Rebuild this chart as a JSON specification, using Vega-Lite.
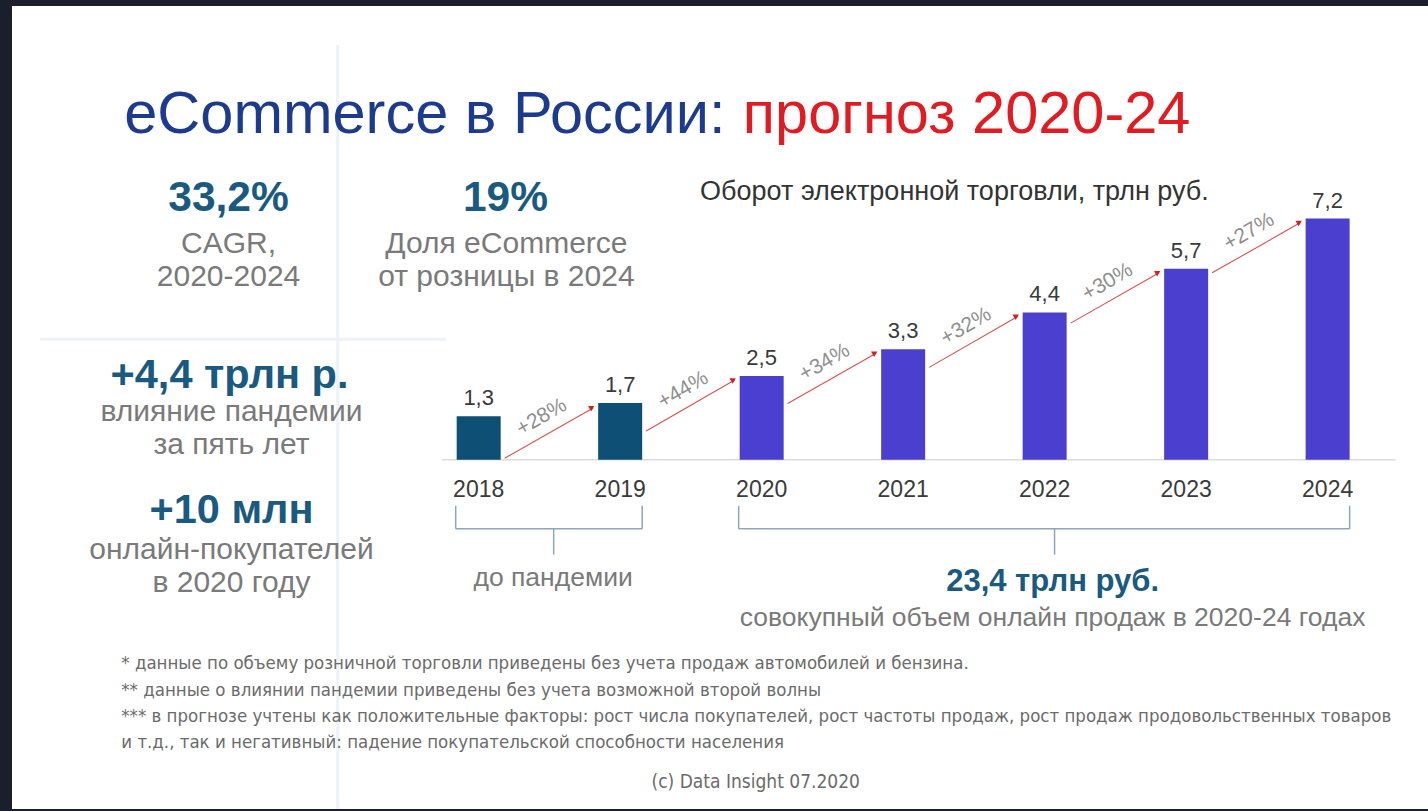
{
  "$schema": "https://vega.github.io/schema/vega-lite/v6.json",
  "width": 1428,
  "height": 811,
  "autosize": {"type": "fit", "contains": "padding"},
  "padding": {"left": 12, "top": 6, "right": 0, "bottom": 0},
  "background": "#1b1f2b",
  "config": {
    "view": {"stroke": null, "fill": "#ffffff"},
    "locale": {"number": {"decimal": ",", "thousands": " ", "grouping": [3], "currency": ["", ""]}},
    "text": {"font": "Liberation Sans"}
  },
  "datasets": {
    "sales": [
      {"year": 2018, "value": 1.3, "phase": "до пандемии"},
      {"year": 2019, "value": 1.7, "phase": "до пандемии"},
      {"year": 2020, "value": 2.5, "phase": "2020-24"},
      {"year": 2021, "value": 3.3, "phase": "2020-24"},
      {"year": 2022, "value": 4.4, "phase": "2020-24"},
      {"year": 2023, "value": 5.7, "phase": "2020-24"},
      {"year": 2024, "value": 7.2, "phase": "2020-24"}
    ],
    "growth": [
      {"from": 2018, "to": 2019, "start": 0.05, "end": 1.55, "label": "+28%"},
      {"from": 2019, "to": 2020, "start": 0.86, "end": 2.38, "label": "+44%"},
      {"from": 2020, "to": 2021, "start": 1.68, "end": 3.18, "label": "+34%"},
      {"from": 2021, "to": 2022, "start": 2.76, "end": 4.28, "label": "+32%"},
      {"from": 2022, "to": 2023, "start": 4.08, "end": 5.58, "label": "+30%"},
      {"from": 2023, "to": 2024, "start": 5.58, "end": 7.08, "label": "+27%"}
    ],
    "periods": [
      {"from": 2018, "to": 2019, "mid": 2018.53, "period": "до пандемии"},
      {"from": 2020, "to": 2024, "mid": 2022.07, "period": "2020-24"}
    ],
    "one": [{}]
  },
  "layer": [
    {"data": {"name": "one"}, "mark": {"type": "rule", "color": "#edf2f8", "strokeWidth": 3},
     "encoding": {"x": {"datum": 2017.004, "type": "quantitative", "scale": {"domain": [2014.737, 2024.674], "nice": false, "zero": false}, "axis": null},
                  "y": {"datum": 12.381, "type": "quantitative", "scale": {"domain": [-10.417, 13.542], "nice": false}, "axis": null},
                  "y2": {"datum": -10.417}}},
    {"data": {"name": "one"}, "mark": {"type": "rule", "color": "#edf2f8", "strokeWidth": 3},
     "encoding": {"x": {"datum": 2014.898, "type": "quantitative", "axis": null}, "x2": {"datum": 2017.77},
                  "y": {"datum": 3.601, "type": "quantitative", "axis": null}}},

    {"data": {"name": "one"}, "mark": {"type": "rule", "color": "#dcdcdc", "strokeWidth": 1.5},
     "encoding": {"x": {"datum": 2017.74, "type": "quantitative", "axis": null}, "x2": {"datum": 2024.48},
                  "y": {"datum": 0, "type": "quantitative", "axis": null}}},
    {"data": {"name": "sales"}, "mark": {"type": "bar", "width": 44, "orient": "vertical"},
     "encoding": {
       "x": {"field": "year", "type": "quantitative", "axis": null},
       "y": {"field": "value", "type": "quantitative", "axis": null},
       "color": {"field": "phase", "type": "nominal", "scale": {"domain": ["до пандемии", "2020-24"], "range": ["#0d4f75", "#4b3fd0"]}, "legend": null}
     }},
    {"data": {"name": "sales"}, "mark": {"type": "text", "fontSize": 22, "color": "#3a3a3a", "align": "center", "baseline": "alphabetic", "dy": -11},
     "encoding": {
       "x": {"field": "year", "type": "quantitative", "axis": null},
       "y": {"field": "value", "type": "quantitative", "axis": null},
       "text": {"field": "value", "type": "quantitative", "format": ".1f"}
     }},
    {"data": {"name": "sales"}, "mark": {"type": "text", "fontSize": 23, "color": "#3a3a3a", "align": "center", "baseline": "alphabetic", "dy": 37},
     "encoding": {
       "x": {"field": "year", "type": "quantitative", "axis": null},
       "y": {"datum": 0, "type": "quantitative", "axis": null},
       "text": {"field": "year", "type": "quantitative", "format": "d"}
     }},
    {"data": {"name": "growth"}, "mark": {"type": "rule", "color": "#d85050", "strokeWidth": 1.1, "xOffset": 26, "x2Offset": -27},
     "encoding": {
       "x": {"field": "from", "type": "quantitative", "axis": null}, "x2": {"field": "to"},
       "y": {"field": "start", "type": "quantitative", "axis": null}, "y2": {"field": "end"}
     }},
    {"data": {"name": "growth"}, "mark": {"type": "point", "shape": "triangle", "filled": true, "size": 40, "angle": 60, "color": "#d42020", "opacity": 1, "xOffset": -29},
     "encoding": {
       "x": {"field": "to", "type": "quantitative", "axis": null},
       "y": {"field": "end", "type": "quantitative", "axis": null}
     }},
    {"data": {"name": "growth"}, "mark": {"type": "text", "fontSize": 21, "color": "#8f8f8f", "align": "center", "baseline": "middle", "angle": -30, "dx": 75, "dy": -4},
     "encoding": {
       "x": {"field": "from", "type": "quantitative", "axis": null},
       "y": {"field": "start", "type": "quantitative", "axis": null},
       "text": {"field": "label", "type": "nominal"}
     }},

    {"data": {"name": "periods"}, "mark": {"type": "rule", "color": "#8fa5b8", "strokeWidth": 1.5, "xOffset": -23, "x2Offset": 22},
     "encoding": {"x": {"field": "from", "type": "quantitative", "axis": null}, "x2": {"field": "to"},
                  "y": {"datum": -2.054, "type": "quantitative", "axis": null}}},
    {"data": {"name": "periods"}, "mark": {"type": "rule", "color": "#8fa5b8", "strokeWidth": 1.5, "xOffset": -23},
     "encoding": {"x": {"field": "from", "type": "quantitative", "axis": null},
                  "y": {"datum": -1.369, "type": "quantitative", "axis": null}, "y2": {"datum": -2.054}}},
    {"data": {"name": "periods"}, "mark": {"type": "rule", "color": "#8fa5b8", "strokeWidth": 1.5, "xOffset": 22},
     "encoding": {"x": {"field": "to", "type": "quantitative", "axis": null},
                  "y": {"datum": -1.369, "type": "quantitative", "axis": null}, "y2": {"datum": -2.054}}},
    {"data": {"name": "periods"}, "mark": {"type": "rule", "color": "#8fa5b8", "strokeWidth": 1.5},
     "encoding": {"x": {"field": "mid", "type": "quantitative", "axis": null},
                  "y": {"datum": -2.054, "type": "quantitative", "axis": null}, "y2": {"datum": -2.827}}},

    {"data": {"name": "one"}, "mark": {"type": "text", "text": "eCommerce в России:", "fontSize": 59.5, "color": "#1c3a8e", "align": "left", "baseline": "alphabetic"},
     "encoding": {"x": {"datum": 2015.495, "type": "quantitative", "axis": null}, "y": {"datum": 9.762, "type": "quantitative", "axis": null}}},
    {"data": {"name": "one"}, "mark": {"type": "text", "text": "прогноз 2020-24", "fontSize": 59.5, "color": "#e01b22", "align": "left", "baseline": "alphabetic"},
     "encoding": {"x": {"datum": 2019.867, "type": "quantitative", "axis": null}, "y": {"datum": 9.762, "type": "quantitative", "axis": null}}},
    {"data": {"name": "one"}, "mark": {"type": "text", "text": "Оборот электронной торговли, трлн руб.", "fontSize": 27, "color": "#333333", "align": "left", "baseline": "alphabetic"},
     "encoding": {"x": {"datum": 2019.565, "type": "quantitative", "axis": null}, "y": {"datum": 7.768, "type": "quantitative", "axis": null}}},

    {"data": {"name": "one"}, "mark": {"type": "text", "text": "33,2%", "fontSize": 42.5, "fontWeight": "bold", "color": "#1a5a80", "align": "center", "baseline": "alphabetic"},
     "encoding": {"x": {"datum": 2016.232, "type": "quantitative", "axis": null}, "y": {"datum": 7.411, "type": "quantitative", "axis": null}}},
    {"data": {"name": "one"}, "mark": {"type": "text", "text": ["CAGR,", "2020-2024"], "lineHeight": 33, "fontSize": 30, "color": "#7a7a7a", "align": "center", "baseline": "alphabetic"},
     "encoding": {"x": {"datum": 2016.232, "type": "quantitative", "axis": null}, "y": {"datum": 6.161, "type": "quantitative", "axis": null}}},
    {"data": {"name": "one"}, "mark": {"type": "text", "text": "19%", "fontSize": 42.5, "fontWeight": "bold", "color": "#1a5a80", "align": "center", "baseline": "alphabetic"},
     "encoding": {"x": {"datum": 2018.189, "type": "quantitative", "axis": null}, "y": {"datum": 7.411, "type": "quantitative", "axis": null}}},
    {"data": {"name": "one"}, "mark": {"type": "text", "text": ["Доля eCommerce", "от розницы в 2024"], "lineHeight": 33, "fontSize": 30, "color": "#7a7a7a", "align": "center", "baseline": "alphabetic"},
     "encoding": {"x": {"datum": 2018.196, "type": "quantitative", "axis": null}, "y": {"datum": 6.161, "type": "quantitative", "axis": null}}},
    {"data": {"name": "one"}, "mark": {"type": "text", "text": "+4,4 трлн р.", "fontSize": 41.5, "fontWeight": "bold", "color": "#1a5a80", "align": "center", "baseline": "alphabetic"},
     "encoding": {"x": {"datum": 2016.239, "type": "quantitative", "axis": null}, "y": {"datum": 2.143, "type": "quantitative", "axis": null}}},
    {"data": {"name": "one"}, "mark": {"type": "text", "text": ["влияние пандемии", "за пять лет"], "lineHeight": 33, "fontSize": 30, "color": "#7a7a7a", "align": "center", "baseline": "alphabetic"},
     "encoding": {"x": {"datum": 2016.253, "type": "quantitative", "axis": null}, "y": {"datum": 1.16, "type": "quantitative", "axis": null}}},
    {"data": {"name": "one"}, "mark": {"type": "text", "text": "+10 млн", "fontSize": 41.5, "fontWeight": "bold", "color": "#1a5a80", "align": "center", "baseline": "alphabetic"},
     "encoding": {"x": {"datum": 2016.253, "type": "quantitative", "axis": null}, "y": {"datum": -1.875, "type": "quantitative", "axis": null}}},
    {"data": {"name": "one"}, "mark": {"type": "text", "text": ["онлайн-покупателей", "в 2020 году"], "lineHeight": 33, "fontSize": 30, "color": "#7a7a7a", "align": "center", "baseline": "alphabetic"},
     "encoding": {"x": {"datum": 2016.253, "type": "quantitative", "axis": null}, "y": {"datum": -2.946, "type": "quantitative", "axis": null}}},

    {"data": {"name": "one"}, "mark": {"type": "text", "text": "до пандемии", "fontSize": 26.5, "color": "#7a7a7a", "align": "center", "baseline": "alphabetic"},
     "encoding": {"x": {"datum": 2018.526, "type": "quantitative", "axis": null}, "y": {"datum": -3.75, "type": "quantitative", "axis": null}}},
    {"data": {"name": "one"}, "mark": {"type": "text", "text": "23,4 трлн руб.", "fontSize": 31, "fontWeight": "bold", "color": "#1a5a80", "align": "center", "baseline": "alphabetic"},
     "encoding": {"x": {"datum": 2022.056, "type": "quantitative", "axis": null}, "y": {"datum": -3.899, "type": "quantitative", "axis": null}}},
    {"data": {"name": "one"}, "mark": {"type": "text", "text": "совокупный объем онлайн продаж в 2020-24 годах", "fontSize": 26.5, "color": "#7a7a7a", "align": "center", "baseline": "alphabetic"},
     "encoding": {"x": {"datum": 2022.056, "type": "quantitative", "axis": null}, "y": {"datum": -4.97, "type": "quantitative", "axis": null}}},

    {"data": {"name": "one"}, "mark": {"type": "text", "text": [
        "* данные по объему розничной торговли приведены без учета продаж автомобилей и бензина.",
        "** данные о влиянии пандемии приведены без учета возможной второй волны",
        "*** в прогнозе учтены как положительные факторы: рост числа покупателей, рост частоты продаж, рост продаж продовольственных товаров",
        "и т.д., так и негативный: падение покупательской способности населения"],
        "lineHeight": 26.3, "fontSize": 18.5, "font": "Liberation Sans Narrow, DejaVu Sans Condensed, Liberation Sans", "color": "#6b6b6b", "align": "left", "baseline": "alphabetic"},
     "encoding": {"x": {"datum": 2015.474, "type": "quantitative", "axis": null}, "y": {"datum": -6.25, "type": "quantitative", "axis": null}}},
    {"data": {"name": "one"}, "mark": {"type": "text", "text": "(c) Data Insight 07.2020", "fontSize": 19, "font": "Liberation Sans Narrow, DejaVu Sans Condensed, Liberation Sans", "color": "#6b6b6b", "align": "center", "baseline": "alphabetic"},
     "encoding": {"x": {"datum": 2019.958, "type": "quantitative", "axis": null}, "y": {"datum": -9.8, "type": "quantitative", "axis": null}}}
  ]
}
